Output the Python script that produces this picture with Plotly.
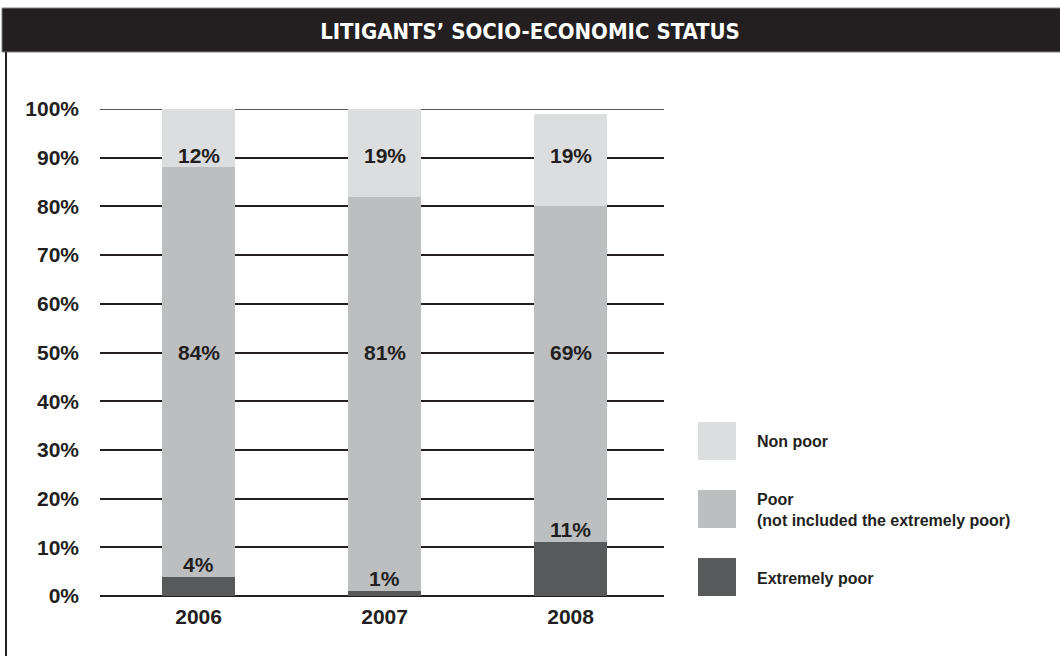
import plotly.graph_objects as go

years = ["2006", "2007", "2008"]
extremely_poor = [4, 1, 11]
poor = [84, 81, 69]
non_poor = [12, 19, 19]
y_ticks = [0, 10, 20, 30, 40, 50, 60, 70, 80, 90, 100]
legend_names = ["Non poor", "Poor<br>(not included the extremely poor)", "Extremely poor"]

C_DARK = "#58595b"
C_MID = "#bcbec0"
C_LIGHT = "#dcdddf"
INK = "#231f20"
FONT = "Liberation Sans"
COND = "DejaVu Sans Condensed, Roboto Condensed, Liberation Sans Narrow, Roboto"

W, H = 1060, 656
L, R, T, B = 100, 396, 109, 60
PW, PH = W - L - R, H - T - B


def px(x):
    return (x - L) / PW


def py(y):
    return (H - B - y) / PH


fig = go.Figure()
for name, vals, col in [("Extremely poor", extremely_poor, C_DARK),
                        ("Poor", poor, C_MID),
                        ("Non poor", non_poor, C_LIGHT)]:
    fig.add_trace(go.Bar(x=years, y=vals, name=name, marker=dict(color=col, line=dict(width=0)),
                         width=0.39, showlegend=False))

ann = []
lab_font = dict(family=FONT, size=21, color=INK)
for i, yr in enumerate(years):
    ann.append(dict(x=i, y=extremely_poor[i], xref="x", yref="y", text=f"<b>{extremely_poor[i]}%</b>",
                    showarrow=False, yanchor="bottom", yshift=-1, font=lab_font))
    ann.append(dict(x=i, y=50, xref="x", yref="y", text=f"<b>{poor[i]}%</b>",
                    showarrow=False, yanchor="middle", font=lab_font))
    ann.append(dict(x=i, y=90.5, xref="x", yref="y", text=f"<b>{non_poor[i]}%</b>",
                    showarrow=False, yanchor="middle", font=lab_font))

shapes = []
# top gridline (range edge)
shapes.append(dict(type="line", xref="paper", yref="y", x0=0, x1=1, y0=100, y1=100,
                   line=dict(color=INK, width=1.5), layer="below"))
# title bar
shapes.append(dict(type="rect", xref="paper", yref="paper", x0=px(2), x1=px(1062), y0=py(52), y1=py(8),
                   fillcolor=INK, line=dict(color="#808080", width=1), layer="above"))
# left border
shapes.append(dict(type="line", xref="paper", yref="paper", x0=px(6), x1=px(6), y0=py(52), y1=py(660),
                   line=dict(color=INK, width=2)))

leg_cols = [C_LIGHT, C_MID, C_DARK]
leg_tops = [422, 490, 558]
leg_text_y = [441, 510, 578]
for col, top, ty, name in zip(leg_cols, leg_tops, leg_text_y, legend_names):
    shapes.append(dict(type="rect", xref="paper", yref="paper", x0=px(698), x1=px(736),
                       y0=py(top + 38), y1=py(top), fillcolor=col, line=dict(width=0)))
    ann.append(dict(x=px(755), y=py(ty), xref="paper", yref="paper", text=f"<b>{name}</b>", showarrow=False,
                    xanchor="left", yanchor="middle", align="left",
                    font=dict(family=FONT, size=16, color=INK)))

fig.update_layout(
    width=W, height=H,
    margin=dict(l=L, r=R, t=T, b=B),
    paper_bgcolor="white", plot_bgcolor="white",
    barmode="stack", bargap=0,
    title=dict(text="<b>LITIGANTS’ SOCIO-ECONOMIC STATUS</b>", x=0.5, xref="container", xanchor="center",
               y=1 - 31 / H, yref="container", yanchor="middle",
               font=dict(family=COND, size=22, color="white")),
    xaxis=dict(type="category", range=[-0.53, 2.502], showgrid=False, showline=False, zeroline=False,
               ticks="", ticklabelstandoff=6, tickvals=years, ticktext=[f"<b>{y}</b>" for y in years],
               tickfont=dict(family=FONT, size=21, color=INK)),
    yaxis=dict(range=[0, 100], tickvals=y_ticks, ticktext=[f"<b>{v}%</b>" for v in y_ticks],
               showgrid=True, gridcolor=INK, gridwidth=1.5,
               zeroline=True, zerolinecolor=INK, zerolinewidth=1.5, showline=False, ticks="",
               ticklabelstandoff=20, tickfont=dict(family=FONT, size=21, color=INK)),
    annotations=ann,
    shapes=shapes,
    font=dict(family=FONT, color=INK),
)
fig.write_html("out.html")
